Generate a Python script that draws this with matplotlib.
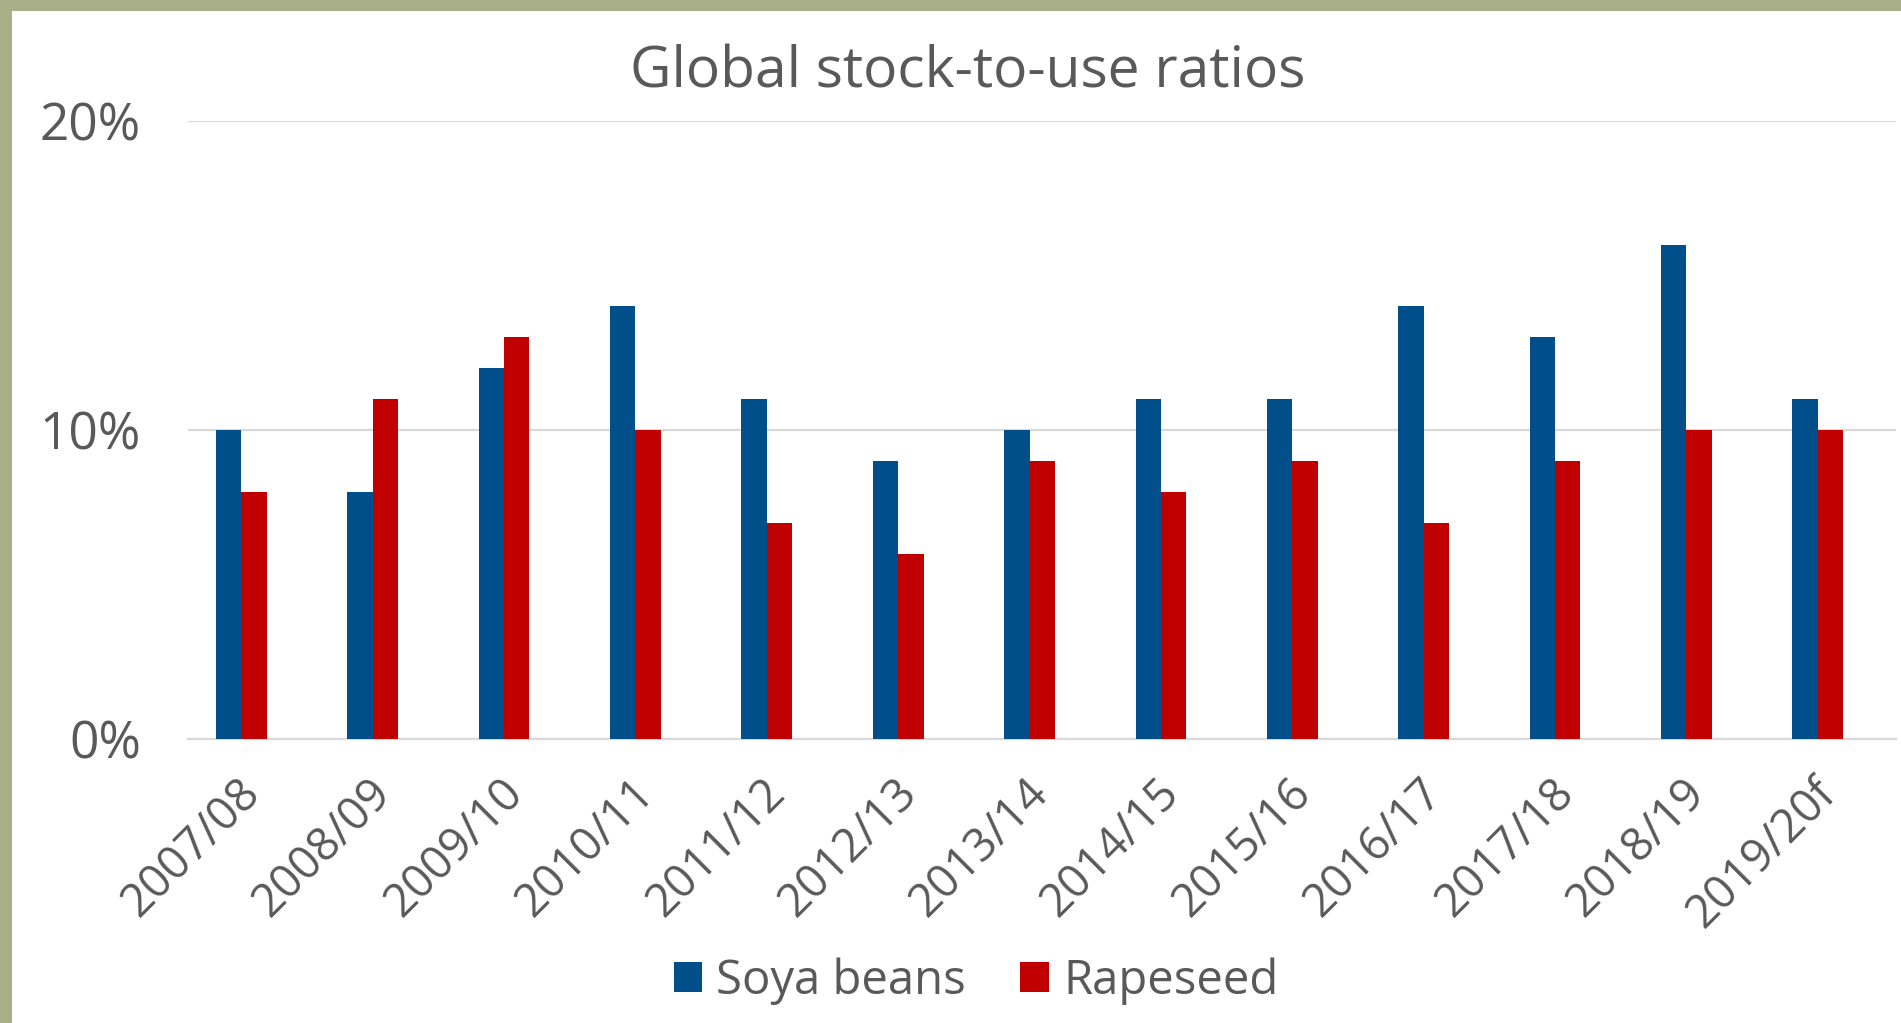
import matplotlib
matplotlib.use("Agg")
import matplotlib.pyplot as plt
import matplotlib.patches as mpatches
import matplotlib.transforms as mtrans
from matplotlib.ticker import FuncFormatter
import numpy as np

seasons = ["2007/08", "2008/09", "2009/10", "2010/11", "2011/12", "2012/13", "2013/14",
           "2014/15", "2015/16", "2016/17", "2017/18", "2018/19", "2019/20f"]
soya = [10, 8, 12, 14, 11, 9, 10, 11, 11, 14, 13, 16, 11]
rapeseed = [8, 11, 13, 10, 7, 6, 9, 8, 9, 7, 9, 10, 10]
yticks = [0, 10, 20]

BLUE = "#004F8B"
RED = "#C00000"
TXT = "#595959"
GRID = "#D9D9D9"
OLIVE = "#A8AE87"
FONT = ["Open Sans", "DejaVu Sans"]

fig = plt.figure(figsize=(19.01, 10.23), dpi=100)
fig.patch.set_facecolor("white")
# olive border strips (top and left)
fig.patches.append(mpatches.Rectangle((0, 1 - 11 / 1023), 1, 11 / 1023, transform=fig.transFigure,
                                      facecolor=OLIVE, edgecolor="none", zorder=0))
fig.patches.append(mpatches.Rectangle((0, 0), 12 / 1901, 1, transform=fig.transFigure,
                                      facecolor=OLIVE, edgecolor="none", zorder=0))

ax = fig.add_axes([188 / 1901, (1023 - 739) / 1023, (1896 - 188) / 1901, (739 - 121) / 1023])
x = np.arange(len(seasons))
w = 0.193
ax.bar(x - w / 2, soya, width=w, color=BLUE, label="Soya beans", zorder=3)
ax.bar(x + w / 2, rapeseed, width=w, color=RED, label="Rapeseed", zorder=3)

ax.set_xlim(-0.406, 12.595)
ax.set_ylim(0, 20)
ax.set_yticks(yticks)
ax.yaxis.set_major_formatter(FuncFormatter(lambda v, p: f"{v:.0f}%"))
ax.grid(axis="y", color=GRID, linewidth=1.6, zorder=0)
for s in ["top", "right", "left"]:
    ax.spines[s].set_visible(False)
ax.spines["bottom"].set_color(GRID)
ax.spines["bottom"].set_linewidth(1.6)
ax.tick_params(axis="both", length=0, colors=TXT)
ax.tick_params(axis="y", pad=34)

ax.set_xticks(x)
ax.set_xticklabels(seasons, rotation=45, ha="right", va="center", rotation_mode="anchor",
                   fontsize=33, color=TXT, family=FONT)
for lab in ax.get_xticklabels():
    lab.set_transform(lab.get_transform() + mtrans.ScaledTranslation(12 / 100, -42 / 100, fig.dpi_scale_trans))
for lab in ax.get_yticklabels():
    lab.set_fontsize(37)
    lab.set_family(FONT)
    lab.set_color(TXT)

fig.text(968 / 1901, 1 - 73 / 1023, "Global stock-to-use ratios", ha="center", va="center",
         fontsize=41, color=TXT, family=FONT)

leg = fig.legend(loc="center", bbox_to_anchor=(976 / 1901, 1 - 981 / 1023), ncol=2, frameon=False,
                 prop={"family": FONT, "size": 34}, handlelength=0.6, handleheight=0.6,
                 handletextpad=0.3, columnspacing=1.15, labelcolor=TXT)

fig.savefig("out.png", dpi=100, facecolor="white")
